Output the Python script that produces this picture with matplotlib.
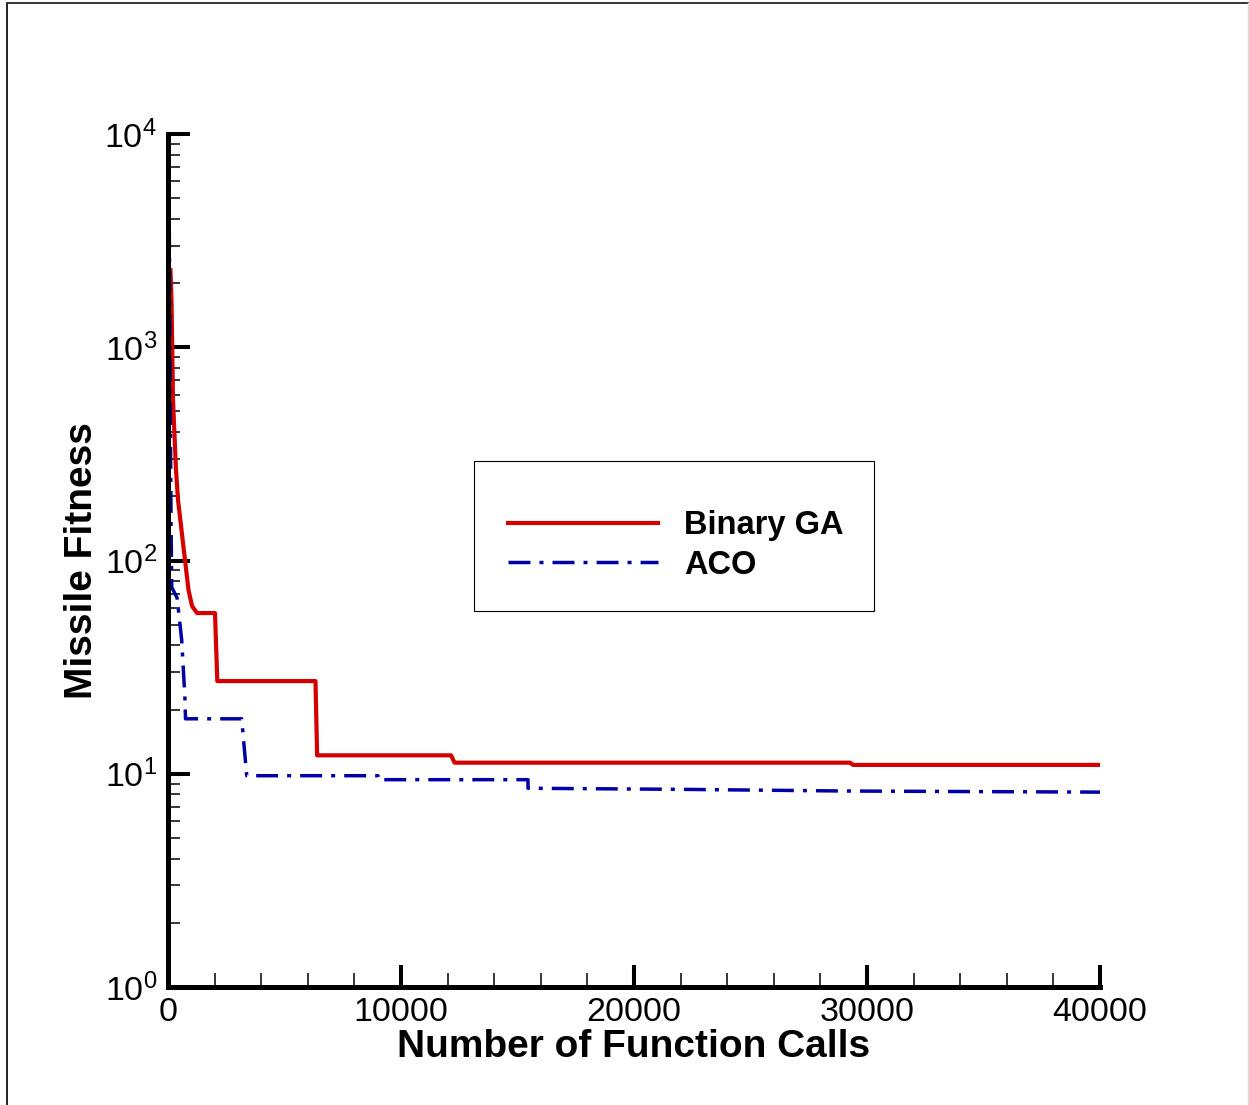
import math
import matplotlib
matplotlib.use("Agg")
import matplotlib.pyplot as plt
from matplotlib.ticker import LogLocator, FixedLocator, MultipleLocator, FuncFormatter, NullFormatter
from matplotlib.lines import Line2D
from matplotlib.patches import Rectangle

# Convergence histories: best fitness vs. function-call count
ga_calls = [105, 150, 215, 343, 430, 880, 1030, 1245, 2017, 2116, 6330, 6400,
            12146, 12300, 29270, 29400, 40000]
ga_fitness = [2300, 1670, 566, 266, 192, 72.7, 61.2, 56.7, 56.7, 27.2, 27.2, 12.2,
              12.2, 11.27, 11.27, 11.0, 11.0]

aco_calls = [20, 60, 100, 130, 160, 391, 588, 730, 751, 3163, 3378, 9013, 9013,
             15450, 15450, 22000, 29000, 40000]
aco_fitness = [9500, 3000, 500, 150, 75, 66.7, 42.4, 22.2, 18.1, 18.1, 9.79, 9.79, 9.38,
               9.38, 8.55, 8.45, 8.3, 8.2]

series_names = ["Binary GA", "ACO"]
x_ticks = [0, 10000, 20000, 30000, 40000]
x_label = "Number of Function Calls"
y_label = "Missile Fitness"

plt.rcParams["font.family"] = ["Liberation Sans", "DejaVu Sans"]
plt.rcParams["mathtext.fontset"] = "custom"
plt.rcParams["mathtext.rm"] = "Liberation Sans"
plt.rcParams["mathtext.default"] = "regular"
plt.rcParams["lines.scale_dashes"] = False

W, H = 1249, 1105
fig = plt.figure(figsize=(W / 100, H / 100), dpi=100)
ax = fig.add_axes([168 / W, 1 - 987 / H, (1100 - 168) / W, (987 - 134) / H])

red = "#D60000"
blue = "#0000A8"
dashdot = (0, (15.8, 6.5, 2.9, 6.5))

ax.plot(ga_calls, ga_fitness, color=red, lw=3.0, solid_joinstyle="round", zorder=2)
ax.plot(aco_calls, aco_fitness, color=blue, lw=2.5, linestyle=dashdot, zorder=2.1)

ax.set_yscale("log")
ax.set_xlim(0, 40000)
ax.set_ylim(1, 1e4)

for s in ("top", "right"):
    ax.spines[s].set_visible(False)
for s in ("left", "bottom"):
    ax.spines[s].set_linewidth(3.6)
    ax.spines[s].set_zorder(3)

ax.xaxis.set_major_locator(FixedLocator(x_ticks))
ax.xaxis.set_minor_locator(MultipleLocator(2000))
ax.xaxis.set_major_formatter(FuncFormatter(lambda v, p: f"{int(v)}"))
ax.yaxis.set_major_locator(LogLocator(base=10, numticks=10))
ax.yaxis.set_minor_locator(LogLocator(base=10, subs=range(2, 10), numticks=20))
ax.yaxis.set_major_formatter(FuncFormatter(lambda v, p: r"$10^{%d}$" % round(math.log10(v))))
ax.yaxis.set_minor_formatter(NullFormatter())

ax.tick_params(which="major", direction="in", length=16, width=2.9, labelsize=24.5,
               top=False, right=False, pad=8)
ax.tick_params(which="minor", direction="in", length=8.5, width=1.1, top=False, right=False)
ax.tick_params(axis="x", which="minor", length=10)
ax.tick_params(axis="x", which="major", pad=7)

ax.set_xlabel(x_label, fontsize=28, fontweight="bold")
ax.set_ylabel(y_label, fontsize=28, fontweight="bold")
ax.xaxis.set_label_coords(0.5, (987 - 1029) / 853)
ax.yaxis.set_label_coords((100 - 168) / 932, 0.5)

# Legend: frameless entries inside a hand-placed box
handles = [Line2D([], [], color=red, lw=3.0),
           Line2D([], [], color=blue, lw=2.5, linestyle=dashdot)]
leg = ax.legend(handles, series_names, loc="upper left",
                bbox_to_anchor=((508 - 168) / 932, (987 - 510) / 853),
                frameon=False, borderpad=0, borderaxespad=0,
                handlelength=4.6, handletextpad=0.8, labelspacing=0.27,
                prop={"size": 23.5, "weight": "bold"})
ax.add_patch(Rectangle(((474 - 168) / 932, (987 - 611) / 853), 400 / 932, 150 / 853,
                       transform=ax.transAxes, fill=False, edgecolor="black",
                       lw=0.8, zorder=5))

# Outer frame of the figure
fig.add_artist(Line2D([6.5 / W, 6.5 / W], [0, 1 - 2.5 / H], color="#222222", lw=1.4,
                      transform=fig.transFigure))
fig.add_artist(Line2D([6.5 / W, 1247.5 / W], [1 - 2.5 / H, 1 - 2.5 / H], color="#333333",
                      lw=1.4, transform=fig.transFigure))
fig.add_artist(Line2D([1247.5 / W, 1247.5 / W], [0, 1 - 2.5 / H], color="#dddddd", lw=1.0,
                      transform=fig.transFigure))

fig.savefig("out.png", dpi=100)
